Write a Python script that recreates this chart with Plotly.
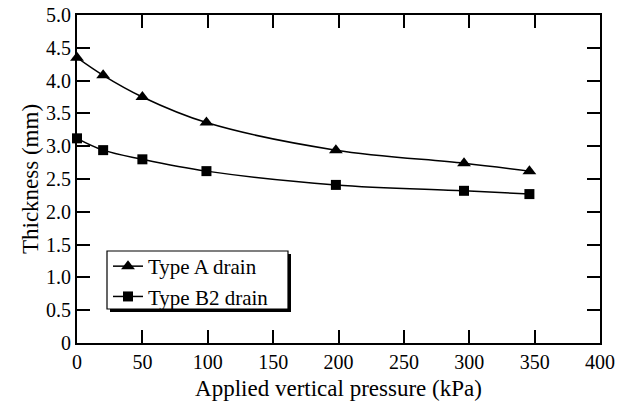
import plotly.graph_objects as go

pressure_a = [0, 20, 50, 99, 198, 296, 346]
thick_a = [4.35, 4.08, 3.75, 3.36, 2.94, 2.74, 2.62]
pressure_b = [0, 20, 50, 99, 198, 296, 346]
thick_b = [3.12, 2.94, 2.80, 2.62, 2.41, 2.32, 2.27]
x_ticks = [0, 50, 100, 150, 200, 250, 300, 350, 400]
y_ticks = [0, 0.5, 1.0, 1.5, 2.0, 2.5, 3.0, 3.5, 4.0, 4.5, 5.0]
y_labels = [f"{v:.1f}" if v else "0" for v in y_ticks]

FONT = "Liberation Serif"

fig = go.Figure()
fig.add_trace(go.Scatter(
    x=pressure_a, y=thick_a, name="Type A drain", mode="lines+markers",
    line=dict(color="black", width=1.5, shape="spline", smoothing=1.0),
    marker=dict(symbol="triangle-up", size=12, color="black"),
    cliponaxis=False))
fig.add_trace(go.Scatter(
    x=pressure_b, y=thick_b, name="Type B2 drain", mode="lines+markers",
    line=dict(color="black", width=1.5, shape="spline", smoothing=1.0),
    marker=dict(symbol="square", size=10, color="black"),
    cliponaxis=False))

# legend frame with drop shadow (pixel-derived paper coords)
def px_x(p):
    return (p - 77) / 523
def px_y(p):
    return (343 - p) / 328

fig.add_shape(type="rect", xref="paper", yref="paper",
              x0=px_x(110), x1=px_x(291), y0=px_y(312), y1=px_y(254),
              fillcolor="black", line=dict(width=0), layer="below")
fig.add_shape(type="rect", xref="paper", yref="paper",
              x0=px_x(107), x1=px_x(288), y0=px_y(309), y1=px_y(251),
              fillcolor="white", line=dict(color="black", width=1.2), layer="below")

fig.update_layout(
    width=617, height=405,
    margin=dict(l=77, r=17, t=15, b=62),
    paper_bgcolor="white", plot_bgcolor="white",
    font=dict(family=FONT, size=20, color="black"),
    showlegend=True,
    legend=dict(x=px_x(108), y=px_y(246), xanchor="left", yanchor="top",
                bgcolor="rgba(0,0,0,0)", borderwidth=0,
                font=dict(family=FONT, size=21), tracegroupgap=0),
    xaxis=dict(range=[0, 400], tickvals=x_ticks, ticks="inside", ticklen=13,
               tickwidth=1.5, tickcolor="black", showline=True, linecolor="black",
               linewidth=2, mirror="ticks", showgrid=False, zeroline=False,
               automargin=False,
               tickfont=dict(family=FONT, size=20),
               title=dict(text="Applied vertical pressure (kPa)", font=dict(family=FONT, size=23), standoff=8)),
    yaxis=dict(range=[0, 5.0], tickvals=y_ticks, ticktext=y_labels, ticks="inside", ticklen=13,
               tickwidth=1.5, tickcolor="black", showline=True, linecolor="black",
               linewidth=2, mirror="ticks", showgrid=False, zeroline=False,
               automargin=False,
               tickfont=dict(family=FONT, size=20),
               title=dict(text="Thickness (mm)", font=dict(family=FONT, size=23), standoff=1)),
)

fig.write_html("out.html", config={"displayModeBar": False},
               post_script="document.body.style.margin='0';")
